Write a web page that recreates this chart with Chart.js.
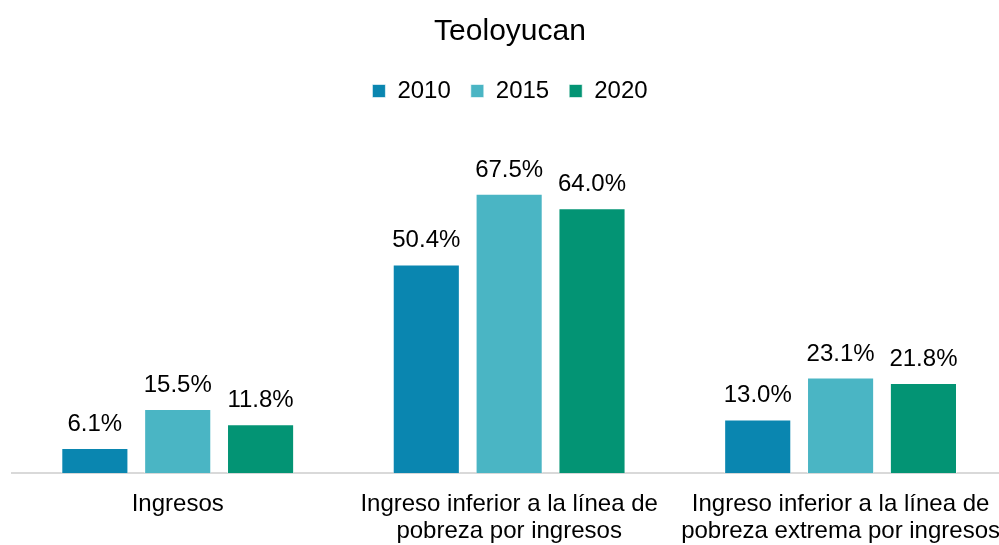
<!DOCTYPE html>
<html>
<head>
<meta charset="utf-8">
<script src="https://cdn.jsdelivr.net/npm/chart.js"></script>
<style>
  html, body { margin: 0; padding: 0; background: #fff; overflow: hidden; }
  #wrap { width: 1020px; height: 545px; }
</style>
</head>
<body>
<div id="wrap"><canvas id="mainChart" width="1020" height="545"></canvas></div>
<script>
const categories = [
    'Ingresos',
    ['Ingreso inferior a la línea de', 'pobreza por ingresos'],
    ['Ingreso inferior a la línea de', 'pobreza extrema por ingresos']
];
const years = ['2010', '2015', '2020'];
const values2010 = [6.1, 50.4, 13.0];
const values2015 = [15.5, 67.5, 23.1];
const values2020 = [11.8, 64.0, 21.8];
const colors = ['#0A86B0', '#4AB5C4', '#039474'];

const FONT = '"Liberation Sans", Arial, sans-serif';

// percentage labels above each bar
const barLabels = {
    id: 'barLabels',
    afterDatasetsDraw(chart) {
        const ctx = chart.ctx;
        ctx.save();
        ctx.font = '24px ' + FONT;
        ctx.fillStyle = '#000';
        ctx.textAlign = 'center';
        ctx.textBaseline = 'alphabetic';
        chart.data.datasets.forEach(function(ds, i) {
            chart.getDatasetMeta(i).data.forEach(function(bar, j) {
                ctx.fillText(ds.data[j].toFixed(1) + '%', bar.x, bar.y - 17);
            });
        });
        ctx.restore();
    }
};

// extra room under the legend
const legendGap = {
    id: 'legendGap',
    beforeInit(chart) {
        const fit = chart.legend.fit;
        chart.legend.fit = function() {
            fit.bind(chart.legend)();
            this.height += 33;
        };
    }
};

const series = [values2010, values2015, values2020];

new Chart(document.getElementById('mainChart'), {
    type: 'bar',
    data: {
        labels: categories,
        datasets: years.map(function(y, i) {
            return {
                label: y,
                data: series[i],
                backgroundColor: colors[i],
                borderColor: 'rgba(255,255,255,0.6)',
                borderWidth: 1,
                categoryPercentage: 0.75,
                barPercentage: 0.81
            };
        })
    },
    options: {
        responsive: false,
        animation: false,
        layout: { padding: { left: 12, right: 12, top: 0, bottom: -18 } },
        plugins: {
            title: {
                display: true,
                text: 'Teoloyucan',
                color: '#000',
                font: { family: FONT, size: 30, weight: 'normal' },
                padding: { top: 14, bottom: 9 }
            },
            legend: {
                position: 'top',
                labels: {
                    color: '#000',
                    font: { family: FONT, size: 24 },
                    boxWidth: 13,
                    boxHeight: 13,
                    padding: 20
                }
            },
            tooltip: { enabled: false }
        },
        scales: {
            x: {
                grid: { display: false, drawTicks: false },
                border: { display: true, color: '#d9d9d9', width: 2 },
                ticks: {
                    color: '#000',
                    font: { family: FONT, size: 24, lineHeight: 1.12 },
                    padding: 18,
                    maxRotation: 0,
                    autoSkip: false
                }
            },
            y: {
                display: false,
                min: 0,
                max: 79
            }
        }
    },
    plugins: [barLabels, legendGap]
});
</script>
</body>
</html>
